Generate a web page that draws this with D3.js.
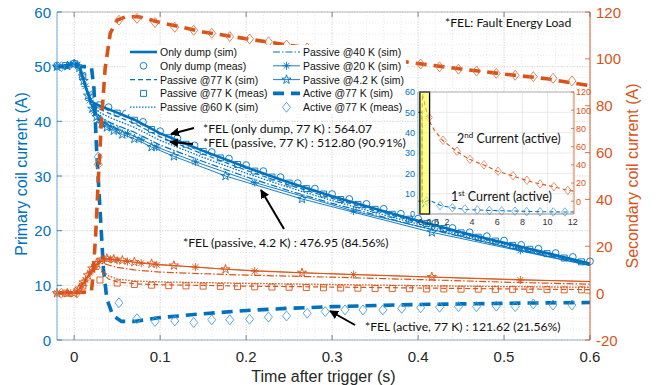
<!DOCTYPE html>
<html>
<head>
<meta charset="utf-8">
<script src="https://cdn.jsdelivr.net/npm/d3@7"></script>
<style>
body { margin: 0; background: #fff; }
svg { display: block; font-family: "Liberation Sans", Arial, sans-serif; }
</style>
</head>
<body>
<script>
// ---- data ----
const xTicks = [0, 0.1, 0.2, 0.3, 0.4, 0.5, 0.6];
const yLeftTicks = [0, 10, 20, 30, 40, 50, 60];
const yRightTicks = [-20, 0, 20, 40, 60, 80, 100, 120];

// simulation time base (s)
const T = [-0.02, 0, 0.005, 0.01, 0.015, 0.02, 0.025, 0.03, 0.04, 0.05, 0.07, 0.1, 0.15, 0.2, 0.25, 0.3, 0.35, 0.4, 0.45, 0.5, 0.55, 0.6];
const onlyDumpSim  = [50, 50.5, 50.3, 48, 45.5, 43.6, 43.2, 42.8, 42.2, 41.6, 40.3, 37.8, 34.6, 31.6, 28.8, 26.3, 24, 21.8, 19.7, 17.8, 15.9, 14.0];
const passive77Sim = [50, 50.5, 50.3, 48, 45.45, 43.4, 42.75, 42.2, 41.5, 40.9, 39.6, 37.15, 34.0, 31.05, 28.35, 25.9, 23.65, 21.5, 19.45, 17.6, 15.8, 13.9];
const passive60Sim = [50, 50.5, 50.3, 48, 45.4, 43.2, 42.3, 41.6, 40.8, 40.15, 38.9, 36.5, 33.4, 30.5, 27.9, 25.5, 23.3, 21.2, 19.2, 17.45, 15.65, 13.85];
const passive40Sim = [50, 50.5, 50.3, 48, 45.3, 42.95, 41.75, 40.85, 39.9, 39.25, 38.0, 35.65, 32.65, 29.85, 27.3, 25.0, 22.9, 20.8, 18.9, 17.2, 15.5, 13.75];

// secondary passive currents (right axis)
const T3 = [-0.02, 0, 0.005, 0.01, 0.015, 0.02, 0.025, 0.03, 0.035, 0.04, 0.05, 0.07, 0.1, 0.15, 0.2, 0.3, 0.4, 0.5, 0.6];
const passive77Sec = [0, 0, 1.3, 3.5, 6.2, 8.7, 10.3, 10.0, 7.8, 6.0, 4.8, 4.0, 3.6, 3.3, 3.0, 2.6, 2.2, 1.8, 1.5];
const passive60Sec = [0, 0, 1.3, 3.6, 6.4, 9.0, 10.8, 10.8, 9.0, 7.4, 6.0, 5.2, 4.8, 4.5, 4.2, 3.7, 3.2, 2.8, 2.5];
const passive40Sec = [0, 0, 1.4, 3.8, 6.7, 9.6, 11.8, 12.8, 12.6, 12.0, 11.0, 9.9, 9.0, 8.3, 7.7, 6.8, 5.8, 4.7, 3.8];

// 4.2 K and 20 K simulations (marker on each sample)
const starT = [-0.02, -0.008, 0.0, 0.006, 0.011, 0.016, 0.021, 0.026, 0.032, 0.038, 0.046, 0.056, 0.07, 0.09, 0.116, 0.176, 0.265, 0.416, 0.6];
const passive4Prim = [50, 50.1, 50.5, 49.8, 47.4, 44.7, 42.3, 40.8, 39.6, 38.9, 38.3, 37.6, 36.8, 35.3, 33.6, 30.0, 25.8, 19.7, 13.6];
const passive4Sec  = [0, 0, 0, 2.0, 4.6, 7.6, 10.5, 12.8, 14.3, 14.8, 14.5, 14.0, 13.3, 12.6, 11.8, 10.2, 8.7, 6.9, 4.9];
const astT = [-0.02, -0.004, 0.004, 0.009, 0.013, 0.018, 0.023, 0.029, 0.035, 0.042, 0.05, 0.062, 0.078, 0.096, 0.141, 0.21, 0.325, 0.519, 0.6];
const passive20Prim = [50, 50.4, 50.4, 48.5, 46.4, 43.8, 41.9, 40.4, 39.7, 39.1, 38.55, 37.8, 36.7, 35.3, 32.6, 28.8, 23.6, 16.4, 13.65];
const passive20Sec  = [0, 0, 0.9, 3.2, 5.6, 8.6, 11.3, 13.5, 14.5, 14.5, 14.0, 13.5, 12.8, 12.1, 11.1, 9.4, 7.9, 5.6, 5.0];

// measurements
const measT = [-0.02, 0, 0.02, 0.04, 0.06, 0.08, 0.1, 0.12, 0.14, 0.16, 0.18, 0.2, 0.22, 0.24, 0.26, 0.28, 0.3, 0.32, 0.34, 0.36, 0.38, 0.4, 0.42, 0.44, 0.46, 0.48, 0.5, 0.52, 0.54, 0.56, 0.58, 0.6];
const onlyDumpMeas = [50.2, 50.6, 44.8, 42.6, 41.4, 39.9, 38.2, 36.9, 35.6, 34.4, 33.2, 32.0, 30.9, 29.8, 28.7, 27.7, 26.7, 25.8, 24.9, 24.0, 23.1, 22.2, 21.4, 20.5, 19.7, 19.0, 18.2, 17.4, 16.7, 15.9, 15.2, 14.4];
const squareT = [-0.01, 0.01, 0.03, 0.05, 0.07, 0.09, 0.11, 0.13, 0.15, 0.17, 0.19, 0.21, 0.23, 0.25, 0.27, 0.29, 0.31, 0.33, 0.35, 0.37, 0.39, 0.41, 0.43, 0.45, 0.47, 0.49, 0.51, 0.53, 0.55, 0.57, 0.59];
const passive77MeasPrim = [50.2, 48.3, 43.0, 41.5, 40.2, 38.5, 37.0, 35.8, 34.5, 33.3, 32.1, 30.9, 29.8, 28.7, 27.7, 26.7, 25.7, 24.8, 23.9, 23.0, 22.1, 21.3, 20.4, 19.6, 18.8, 18.1, 17.3, 16.6, 15.8, 15.0, 14.3];
const passive77MeasSec  = [0, 3.0, 5.6, 4.3, 3.7, 3.4, 3.2, 3.1, 3.0, 2.9, 2.8, 2.7, 2.6, 2.5, 2.4, 2.3, 2.2, 2.1, 2.0, 2.0, 1.9, 1.8, 1.8, 1.7, 1.7, 1.6, 1.6, 1.5, 1.5, 1.4, 1.4];

// active protection
const activeT1 = [-0.02, 0.02, 0.023, 0.026, 0.03, 0.034, 0.038, 0.045, 0.055, 0.07, 0.1, 0.15, 0.2, 0.25, 0.3, 0.35, 0.4, 0.45, 0.5, 0.55, 0.6];
const activeSimPrim = [50, 50, 46, 35, 24, 13, 7.5, 4.5, 3.4, 3.4, 4.1, 4.8, 5.4, 5.8, 6.1, 6.3, 6.5, 6.6, 6.7, 6.8, 6.85];
const activeT2 = [-0.02, 0.02, 0.022, 0.025, 0.028, 0.032, 0.036, 0.042, 0.05, 0.06, 0.075, 0.1, 0.15, 0.2, 0.25, 0.3, 0.35, 0.4, 0.45, 0.5, 0.55, 0.6];
const activeSimSec = [0, 0.5, 8, 25, 48, 75, 96, 111, 116.5, 118, 118, 115.5, 111.5, 108.6, 105.8, 103.1, 100.5, 98, 95.7, 93.5, 91.5, 88.5];
const diaT = [-0.015, 0.003, 0.028, 0.052, 0.073, 0.094, 0.117, 0.139, 0.16, 0.181, 0.204, 0.226, 0.247, 0.271, 0.292, 0.315, 0.336, 0.359, 0.381, 0.403, 0.425, 0.447, 0.468, 0.491, 0.513, 0.534, 0.557, 0.579];
const activeMeasPrim = [50, 50.3, 33.5, 6.8, 3.9, 3.4, 3.5, 3.2, 3.7, 3.7, 3.8, 4.2, 4.4, 4.9, 5.2, 5.5, 5.5, 5.5, 5.8, 5.9, 6.0, 6.1, 6.1, 6.2, 6.1, 6.6, 6.4, 6.4];
const activeMeasSec  = [0, 0, 55, 116.5, 117.3, 115.5, 113.5, 112.2, 110.9, 109.5, 108.5, 107.3, 105.9, 104.7, 103.4, 102.2, 101.0, 99.8, 98.8, 97.8, 96.6, 95.6, 94.8, 93.8, 93.0, 92.4, 91.7, 90.6];

// inset (0 - 12 s)
const insetXTicks = [0, 0.6, 2, 4, 6, 8, 10, 12];
const insetYLeftTicks = [0, 10, 20, 30, 40, 50, 60];
const insetYRightTicks = [0, 20, 40, 60, 80, 100, 120];
const insetT1 = [-0.3, 0.02, 0.035, 0.06, 0.3, 0.6, 1.5, 2.5, 3.5, 5, 7, 9, 11, 12.1];
const insetPrim = [50, 50, 12, 3.3, 6.1, 6.8, 4.2, 3.0, 2.3, 1.8, 1.5, 1.2, 1.0, 1.0];
const insetMeasT1 = [0.39, 1.45, 2.43, 3.43, 4.41, 5.37, 6.35, 7.41, 8.34, 9.4, 10.45, 11.38];
const insetMeasPrim = [6.4, 4.1, 3.1, 2.5, 2.0, 1.7, 1.5, 1.4, 1.2, 1.1, 1.0, 1.0];
const insetT2 = [-0.3, 0.02, 0.04, 0.06, 0.3, 0.6, 1.0, 1.65, 2.75, 3.8, 4.9, 6.0, 7.2, 8.3, 9.4, 10.5, 11.6, 12.1];
const insetSec = [0, 0, 111, 118, 103, 88, 78, 67, 55, 46, 40, 33, 28, 23, 19, 16, 12, 11];
const insetMeasT2 = [0.57, 1.69, 2.8, 3.83, 4.94, 6.06, 7.25, 8.36, 9.4, 10.5, 11.6];
const insetMeasSec = [92, 67, 55, 46, 40, 33, 28, 23, 19, 16, 12];

// ---- setup ----
const W = 656, H = 385;
const blue = '#0072BD', orange = '#D95319', blueLt = '#4C9ED9', orangeLt = '#E2774A';
const svg = d3.select('body').append('svg').attr('width', W).attr('height', H);

const L = 57, R = 590, TOP = 12, BOT = 340;
const x = d3.scaleLinear().domain([-0.02, 0.6]).range([L, R]);
const yL = d3.scaleLinear().domain([0, 60]).range([BOT, TOP]);
const yR = d3.scaleLinear().domain([-20, 120]).range([BOT, TOP]);

svg.append('clipPath').attr('id', 'plot')
    .append('rect').attr('x', L).attr('y', TOP).attr('width', R - L).attr('height', BOT - TOP);

// grid (minor then major)
const grid = svg.append('g');
d3.range(-0.02, 0.6001, 0.02).forEach(t => {
    grid.append('line').attr('x1', x(t)).attr('x2', x(t)).attr('y1', TOP).attr('y2', BOT)
        .attr('stroke', '#dadada').attr('stroke-width', 0.6).attr('stroke-dasharray', '1,2');
});
d3.range(0, 60.01, 2).forEach(v => {
    grid.append('line').attr('x1', L).attr('x2', R).attr('y1', yL(v)).attr('y2', yL(v))
        .attr('stroke', '#dadada').attr('stroke-width', 0.6).attr('stroke-dasharray', '1,2');
});
xTicks.forEach(t => {
    grid.append('line').attr('x1', x(t)).attr('x2', x(t)).attr('y1', TOP).attr('y2', BOT)
        .attr('stroke', '#c8c8c8').attr('stroke-width', 0.7).attr('stroke-dasharray', '1,1.5');
});
yLeftTicks.forEach(v => {
    grid.append('line').attr('x1', L).attr('x2', R).attr('y1', yL(v)).attr('y2', yL(v))
        .attr('stroke', '#c8c8c8').attr('stroke-width', 0.7).attr('stroke-dasharray', '1,1.5');
});

// markers
const r2 = Math.SQRT1_2 * 4;
const markerPath = {
    circle: d3.symbol(d3.symbolCircle, 36)(),
    square: d3.symbol(d3.symbolSquare, 36)(),
    diamond: 'M0,-5L4,0L0,5L-4,0Z',
    star: d3.symbol(d3.symbolStar, 26)(),
    asterisk: `M-4,0H4M0,-4V4M${-r2},${-r2}L${r2},${r2}M${-r2},${r2}L${r2},${-r2}`
};

function drawSeries(g, s, xs, ys) {
    const pts = d3.zip(s.t, s.v);
    const color = s.color;
    if (s.w) {
        g.append('path').datum(pts)
            .attr('clip-path', 'url(#plot)')
            .attr('fill', 'none').attr('stroke', color).attr('stroke-width', s.w)
            .attr('stroke-dasharray', s.dash || null)
            .attr('d', d3.line().x(d => xs(d[0])).y(d => ys(d[1])));
    }
    if (s.mark) {
        const mp = s.lastMark === false ? pts.slice(0, -1) : pts;
        g.selectAll(null).data(mp).enter().append('path')
            .attr('transform', d => `translate(${xs(d[0])},${ys(d[1])})`)
            .attr('d', markerPath[s.mark])
            .attr('fill', 'none').attr('stroke', s.mcolor || color).attr('stroke-width', 0.9);
    }
}

const primary = [
    {t: T, v: passive77Sim, color: blue, w: 1.2, dash: '5,3'},
    {t: T, v: passive60Sim, color: blue, w: 1.3, dash: '1.5,1.5'},
    {t: T, v: passive40Sim, color: blue, w: 1.2, dash: '7,2,1.5,2'},
    {t: astT, v: passive20Prim, color: blue, w: 0.9, mark: 'asterisk', lastMark: false},
    {t: starT, v: passive4Prim, color: blue, w: 0.9, mark: 'star', lastMark: false},
    {t: T, v: onlyDumpSim, color: blue, w: 2.6},
    {t: measT, v: onlyDumpMeas, color: blue, mark: 'circle'},
    {t: squareT, v: passive77MeasPrim, color: blue, mark: 'square'},
    {t: activeT1, v: activeSimPrim, color: blue, w: 3.6, dash: '11,7'},
    {t: diaT, v: activeMeasPrim, color: blueLt, mark: 'diamond'}
];
const secondary = [
    {t: T3, v: passive77Sec, color: orange, w: 1.2, dash: '5,3'},
    {t: T3, v: passive60Sec, color: orange, w: 1.3, dash: '1.5,1.5'},
    {t: T3, v: passive40Sec, color: orange, w: 1.2, dash: '7,2,1.5,2'},
    {t: astT, v: passive20Sec, color: orange, w: 0.9, mark: 'asterisk', lastMark: false},
    {t: starT, v: passive4Sec, color: orange, w: 0.9, mark: 'star', lastMark: false},
    {t: squareT, v: passive77MeasSec, color: orange, mark: 'square'},
    {t: activeT2, v: activeSimSec, color: orange, w: 3.6, dash: '11,7'},
    {t: diaT, v: activeMeasSec, color: orangeLt, mark: 'diamond'}
];
const gPrim = svg.append('g');
primary.forEach(s => drawSeries(gPrim, s, x, yL));
const gSec = svg.append('g');
secondary.forEach(s => drawSeries(gSec, s, x, yR));

// ---- axes ----
const ax = svg.append('g');
ax.append('line').attr('x1', L).attr('x2', R).attr('y1', TOP).attr('y2', TOP).attr('stroke', '#b0b0b0').attr('stroke-width', 0.8);
ax.append('line').attr('x1', L).attr('x2', R).attr('y1', BOT).attr('y2', BOT).attr('stroke', '#8aa0b4').attr('stroke-width', 0.8);
ax.append('line').attr('x1', L).attr('x2', L).attr('y1', TOP).attr('y2', BOT).attr('stroke', '#5d9fd0').attr('stroke-width', 0.9);
ax.append('line').attr('x1', R).attr('x2', R).attr('y1', TOP).attr('y2', BOT).attr('stroke', orange).attr('stroke-width', 0.9);

xTicks.forEach(t => {
    ax.append('line').attr('x1', x(t)).attr('x2', x(t)).attr('y1', BOT).attr('y2', BOT - 5).attr('stroke', '#555').attr('stroke-width', 0.7);
    ax.append('line').attr('x1', x(t)).attr('x2', x(t)).attr('y1', TOP).attr('y2', TOP + 5).attr('stroke', '#555').attr('stroke-width', 0.7);
    ax.append('text').attr('x', x(t)).attr('y', 362).attr('text-anchor', 'middle')
        .attr('font-size', 15).attr('fill', '#262626').text(t);
});
yLeftTicks.forEach(v => {
    ax.append('line').attr('x1', L).attr('x2', L + 5).attr('y1', yL(v)).attr('y2', yL(v)).attr('stroke', blue).attr('stroke-width', 0.8);
    ax.append('text').attr('x', 51).attr('y', yL(v) + 5.5).attr('text-anchor', 'end')
        .attr('font-size', 15).attr('fill', blue).text(v);
});
yRightTicks.forEach(v => {
    ax.append('line').attr('x1', R).attr('x2', R - 5).attr('y1', yR(v)).attr('y2', yR(v)).attr('stroke', orange).attr('stroke-width', 0.8);
    ax.append('text').attr('x', 596).attr('y', yR(v) + 5.5).attr('text-anchor', 'start')
        .attr('font-size', 15).attr('fill', orange).text(v);
});
ax.append('text').attr('x', (L + R) / 2).attr('y', 382).attr('text-anchor', 'middle')
    .attr('font-size', 16).attr('fill', '#262626').text('Time after trigger (s)');
ax.append('text').attr('transform', 'translate(27,174) rotate(-90)').attr('text-anchor', 'middle')
    .attr('font-size', 16).attr('fill', blue).text('Primary coil current (A)');
ax.append('text').attr('transform', 'translate(638,176) rotate(-90)').attr('text-anchor', 'middle')
    .attr('font-size', 16).attr('fill', orange).text('Secondary coil current (A)');

// ---- legend ----
const legendItems = [
    {label: 'Only dump (sim)', s: primary[5]},
    {label: 'Only dump (meas)', s: primary[6]},
    {label: 'Passive @77 K (sim)', s: primary[0]},
    {label: 'Passive @77 K (meas)', s: primary[7]},
    {label: 'Passive @60 K (sim)', s: primary[1]},
    {label: 'Passive @40 K (sim)', s: primary[2]},
    {label: 'Passive @20 K (sim)', s: primary[3]},
    {label: 'Passive @4.2 K (sim)', s: primary[4]},
    {label: 'Active @77 K (sim)', s: primary[8]},
    {label: 'Active @77 K (meas)', s: primary[9]}
];
const lg = svg.append('g');
lg.append('rect').attr('x', 126).attr('y', 45).attr('width', 280).attr('height', 69).attr('fill', '#fff');
legendItems.forEach((it, i) => {
    const col = Math.floor(i / 5), row = i % 5;
    const x0 = col ? 273 : 130, yy = 52 + row * 13.8;
    if (it.s.w) {
        lg.append('line').attr('x1', x0).attr('x2', x0 + 27).attr('y1', yy).attr('y2', yy)
            .attr('stroke', it.s.color).attr('stroke-width', it.s.w).attr('stroke-dasharray', it.s.dash || null);
    }
    if (it.s.mark) {
        lg.append('path').attr('transform', `translate(${x0 + 13.5},${yy})`).attr('d', markerPath[it.s.mark])
            .attr('fill', 'none').attr('stroke', it.s.color).attr('stroke-width', 0.9);
    }
    lg.append('text').attr('x', x0 + 30).attr('y', yy + 4).attr('font-size', 10.5).attr('fill', '#111').text(it.label);
});

// ---- annotations ----
const an = svg.append('g').attr('font-family', 'Lato, "Open Sans", sans-serif').attr('font-size', 12.2).attr('fill', '#111');
an.append('text').attr('x', 445).attr('y', 27).text('*FEL: Fault Energy Load');
an.append('text').attr('x', 203).attr('y', 133).text('*FEL (only dump, 77 K) : 564.07');
an.append('text').attr('x', 203).attr('y', 147).text('*FEL (passive, 77 K) : 512.80 (90.91%)');
an.append('text').attr('x', 183).attr('y', 247).text('*FEL (passive, 4.2 K) : 476.95 (84.56%)');
an.append('text').attr('x', 365).attr('y', 331).text('*FEL (active, 77 K) : 121.62 (21.56%)');

svg.append('defs').append('marker').attr('id', 'arr').attr('viewBox', '0 0 10 10')
    .attr('refX', 9).attr('refY', 5).attr('markerWidth', 4.5).attr('markerHeight', 4.5)
    .attr('orient', 'auto').append('path').attr('d', 'M0,0L10,5L0,10Z').attr('fill', '#000');
const arrows = [[194, 128, 171, 134], [193, 144, 170, 142], [284, 229, 261, 190], [355, 325, 330, 311]];
arrows.forEach(a => {
    svg.append('line').attr('x1', a[0]).attr('y1', a[1]).attr('x2', a[2]).attr('y2', a[3])
        .attr('stroke', '#000').attr('stroke-width', 2).attr('marker-end', 'url(#arr)');
});

// ---- inset ----
const IL = 418, IR = 574, IT = 92, IB = 214;
const ix = d3.scaleLinear().domain([-0.3, 12.1]).range([IL, IR]);
const iyL = d3.scaleLinear().domain([0, 60]).range([IB, IT]);
const iyR = d3.scaleLinear().domain([-14, 120]).range([IB, IT]);
const ins = svg.append('g');
ins.append('clipPath').attr('id', 'inset').append('rect').attr('x', IL).attr('y', IT).attr('width', IR - IL).attr('height', IB - IT);
ins.append('rect').attr('x', IL).attr('y', IT).attr('width', IR - IL).attr('height', IB - IT).attr('fill', '#fff');
insetXTicks.forEach(t => {
    ins.append('line').attr('x1', ix(t)).attr('x2', ix(t)).attr('y1', IT).attr('y2', IB).attr('stroke', '#e3e3e3').attr('stroke-width', 0.7);
});
insetYLeftTicks.forEach(v => {
    ins.append('line').attr('x1', IL).attr('x2', IR).attr('y1', iyL(v)).attr('y2', iyL(v)).attr('stroke', '#e3e3e3').attr('stroke-width', 0.7);
});
const insetSeries = [
    {t: insetT1, v: insetPrim, color: blue, w: 1.1, dash: '4,3', y: iyL},
    {t: insetMeasT1, v: insetMeasPrim, color: blueLt, mark: 'diamond', y: iyL},
    {t: insetT2, v: insetSec, color: orange, w: 1.1, dash: '4,3', y: iyR},
    {t: insetMeasT2, v: insetMeasSec, color: orangeLt, mark: 'diamond', y: iyR}
];
insetSeries.forEach(s => {
    const pts = d3.zip(s.t, s.v);
    if (s.w) {
        ins.append('path').datum(pts).attr('clip-path', 'url(#inset)')
            .attr('fill', 'none').attr('stroke', s.color).attr('stroke-width', s.w).attr('stroke-dasharray', s.dash)
            .attr('d', d3.line().x(d => ix(d[0])).y(d => s.y(d[1])));
    }
    if (s.mark) {
        ins.selectAll(null).data(pts).enter().append('path')
            .attr('transform', d => `translate(${ix(d[0])},${s.y(d[1])}) scale(0.85)`)
            .attr('d', markerPath[s.mark]).attr('fill', 'none').attr('stroke', s.color).attr('stroke-width', 0.9);
    }
});
ins.append('rect').attr('x', ix(-0.15)).attr('y', IT).attr('width', ix(0.62) - ix(-0.15)).attr('height', IB - IT)
    .attr('fill', '#ffff30').attr('fill-opacity', 0.55).attr('stroke', '#000').attr('stroke-width', 1.3);
ins.append('line').attr('x1', IL).attr('x2', IR).attr('y1', IT).attr('y2', IT).attr('stroke', '#999').attr('stroke-width', 0.7);
ins.append('line').attr('x1', IL).attr('x2', IR).attr('y1', IB).attr('y2', IB).attr('stroke', '#777').attr('stroke-width', 0.7);
ins.append('line').attr('x1', IL).attr('x2', IL).attr('y1', IT).attr('y2', IB).attr('stroke', '#5d9fd0').attr('stroke-width', 0.8);
ins.append('line').attr('x1', IR).attr('x2', IR).attr('y1', IT).attr('y2', IB).attr('stroke', orange).attr('stroke-width', 0.8);
insetXTicks.forEach(t => {
    // "0" and "0.6" sit very close together: nudge them apart like the original
    const dx = t === 0 ? -1 : (t === 0.6 ? 3.5 : 0);
    ins.append('text').attr('x', ix(t) + dx).attr('y', 225).attr('text-anchor', 'middle')
        .attr('font-size', 9).attr('fill', '#333').text(t);
});
insetYLeftTicks.forEach(v => {
    ins.append('text').attr('x', IL - 3).attr('y', iyL(v) + 3.3).attr('text-anchor', 'end')
        .attr('font-size', 9).attr('fill', blue).text(v);
});
insetYRightTicks.forEach(v => {
    ins.append('line').attr('x1', IR).attr('x2', IR - 3).attr('y1', iyR(v)).attr('y2', iyR(v)).attr('stroke', orange).attr('stroke-width', 0.7);
    ins.append('text').attr('x', IR + 2).attr('y', iyR(v) + 3.3).attr('text-anchor', 'start')
        .attr('font-size', 9).attr('fill', orange).text(v);
});
const it2 = ins.append('text').attr('x', 457).attr('y', 143).attr('font-family', 'Lato, sans-serif').attr('font-size', 12.5).attr('fill', '#111');
it2.append('tspan').text('2');
it2.append('tspan').attr('font-size', 8).attr('dy', -5).text('nd');
it2.append('tspan').attr('dy', 5).text(' Current (active)');
const it1 = ins.append('text').attr('x', 451).attr('y', 201).attr('font-family', 'Lato, sans-serif').attr('font-size', 12.5).attr('fill', '#111');
it1.append('tspan').text('1');
it1.append('tspan').attr('font-size', 8).attr('dy', -5).text('st');
it1.append('tspan').attr('dy', 5).text(' Current (active)');
</script>
</body>
</html>
